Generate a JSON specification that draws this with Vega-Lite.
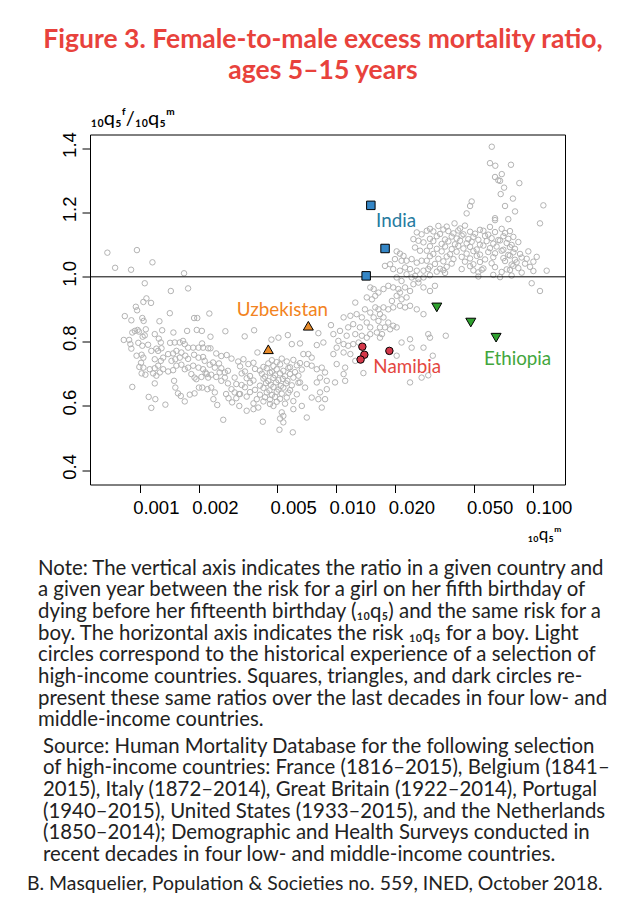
{
"$schema": "https://vega.github.io/schema/vega-lite/v6.json",
"padding": {"left": 27, "top": 26.5, "right": 0, "bottom": 0},
"background": "white",
"title": {"text": ["Figure 3. Female-to-male excess mortality ratio,", "ages 5–15 years"], "font": "Lato", "fontSize": 26.5, "fontWeight": "bold", "color": "#e8423c", "anchor": "middle", "lineHeight": 30.7, "offset": 23.5, "frame": "group", "dx": -4.5},
"spacing": 26,
"bounds": "flush",
"datasets": {
"hist": [
{"q":0.00106,"r":0.980},{"q":0.001439,"r":0.956},{"q":0.001762,"r":0.964},{"q":0.001043,"r":0.922},{"q":0.001081,"r":0.933},{"q":0.001141,"r":0.919},{"q":0.000955,"r":0.907},{"q":0.000969,"r":0.896},{"q":0.000839,"r":0.878},{"q":0.000906,"r":0.865},{"q":0.00103,"r":0.872},{"q":0.001046,"r":0.863},{"q":0.001259,"r":0.862},{"q":0.001422,"r":0.887},{"q":0.00189,"r":0.872},{"q":0.001962,"r":0.872},{"q":0.00226,"r":0.886},{"q":0.000916,"r":0.827},{"q":0.000944,"r":0.832},{"q":0.000975,"r":0.835},{"q":0.00099,"r":0.830},{"q":0.001073,"r":0.837},{"q":0.001034,"r":0.814},{"q":0.00106,"r":0.818},{"q":0.0013,"r":0.834},{"q":0.001483,"r":0.827},{"q":0.001741,"r":0.832},{"q":0.00195,"r":0.835},{"q":0.00207,"r":0.832},{"q":0.00229,"r":0.814},{"q":0.002727,"r":0.831},{"q":0.000829,"r":0.804},{"q":0.000883,"r":0.804},{"q":0.000896,"r":0.791},{"q":0.000906,"r":0.777},{"q":0.000983,"r":0.795},{"q":0.00103,"r":0.786},{"q":0.001102,"r":0.789},{"q":0.001192,"r":0.822},{"q":0.00125,"r":0.808},{"q":0.00128,"r":0.796},{"q":0.001215,"r":0.777},{"q":0.001145,"r":0.770},{"q":0.00124,"r":0.770},{"q":0.00129,"r":0.778},{"q":0.001427,"r":0.795},{"q":0.001507,"r":0.796},{"q":0.001598,"r":0.796},{"q":0.00166,"r":0.801},{"q":0.001694,"r":0.791},{"q":0.001762,"r":0.780},{"q":0.00187,"r":0.780},{"q":0.00199,"r":0.780},{"q":0.002075,"r":0.793},{"q":0.0021,"r":0.780},{"q":0.00223,"r":0.778},{"q":0.00229,"r":0.778},{"q":0.00245,"r":0.762},{"q":0.0026,"r":0.754},{"q":0.00277,"r":0.757},{"q":0.00293,"r":0.746},{"q":0.000963,"r":0.755},{"q":0.001022,"r":0.758},{"q":0.001043,"r":0.749},{"q":0.001015,"r":0.733},{"q":0.000995,"r":0.720},{"q":0.001043,"r":0.718},{"q":0.001068,"r":0.696},{"q":0.001022,"r":0.700},{"q":0.001124,"r":0.713},{"q":0.001192,"r":0.716},{"q":0.00124,"r":0.724},{"q":0.00128,"r":0.739},{"q":0.001192,"r":0.744},{"q":0.001315,"r":0.749},{"q":0.001394,"r":0.760},{"q":0.001478,"r":0.762},{"q":0.001536,"r":0.770},{"q":0.001628,"r":0.765},{"q":0.001706,"r":0.755},{"q":0.001762,"r":0.745},{"q":0.00189,"r":0.758},{"q":0.00199,"r":0.749},{"q":0.0021,"r":0.751},{"q":0.00214,"r":0.739},{"q":0.00227,"r":0.727},{"q":0.00236,"r":0.734},{"q":0.00241,"r":0.718},{"q":0.00253,"r":0.731},{"q":0.0026,"r":0.716},{"q":0.00271,"r":0.703},{"q":0.00281,"r":0.708},{"q":0.00304,"r":0.687},{"q":0.0031,"r":0.667},{"q":0.00317,"r":0.737},{"q":0.00271,"r":0.687},{"q":0.0026,"r":0.677},{"q":0.00281,"r":0.669},{"q":0.00293,"r":0.651},{"q":0.00304,"r":0.641},{"q":0.0032,"r":0.636},{"q":0.00117,"r":0.700},{"q":0.001215,"r":0.693},{"q":0.001265,"r":0.703},{"q":0.001315,"r":0.713},{"q":0.001394,"r":0.706},{"q":0.001478,"r":0.710},{"q":0.001536,"r":0.724},{"q":0.001628,"r":0.727},{"q":0.001694,"r":0.713},{"q":0.001762,"r":0.718},{"q":0.00183,"r":0.698},{"q":0.0019,"r":0.687},{"q":0.00194,"r":0.682},{"q":0.00206,"r":0.689},{"q":0.00219,"r":0.698},{"q":0.00223,"r":0.687},{"q":0.00231,"r":0.696},{"q":0.00245,"r":0.689},{"q":0.00255,"r":0.703},{"q":0.000916,"r":0.658},{"q":0.001192,"r":0.669},{"q":0.00111,"r":0.627},{"q":0.0012,"r":0.620},{"q":0.001145,"r":0.593},{"q":0.00135,"r":0.603},{"q":0.001495,"r":0.677},{"q":0.001517,"r":0.656},{"q":0.001565,"r":0.638},{"q":0.001617,"r":0.630},{"q":0.001694,"r":0.613},{"q":0.001797,"r":0.634},{"q":0.0019,"r":0.638},{"q":0.002,"r":0.656},{"q":0.00208,"r":0.656},{"q":0.00221,"r":0.651},{"q":0.00231,"r":0.656},{"q":0.00241,"r":0.641},{"q":0.00237,"r":0.620},{"q":0.00248,"r":0.602},{"q":0.00266,"r":0.556},{"q":0.00295,"r":0.610},{"q":0.00321,"r":0.599},{"q":0.00275,"r":0.636},{"q":0.00283,"r":0.623},{"q":0.0031,"r":0.623},{"q":0.00145,"r":0.739},{"q":0.001517,"r":0.744},{"q":0.001598,"r":0.749},{"q":0.00187,"r":0.724},{"q":0.00199,"r":0.718},{"q":0.0021,"r":0.713},{"q":0.00216,"r":0.703},{"q":0.000684,"r":1.075},{"q":0.000749,"r":1.028},{"q":0.000967,"r":1.083},{"q":0.000903,"r":1.022},{"q":0.00116,"r":1.045},{"q":0.00168,"r":1.011},
{"q":0.00337,"r":0.744},{"q":0.00379,"r":0.733},{"q":0.0047,"r":0.741},{"q":0.00498,"r":0.735},{"q":0.00528,"r":0.746},{"q":0.0056,"r":0.737},{"q":0.00605,"r":0.742},{"q":0.00654,"r":0.732},
{"q":0.00324,"r":0.722},{"q":0.00357,"r":0.729},{"q":0.00426,"r":0.720},{"q":0.00451,"r":0.731},{"q":0.00479,"r":0.723},{"q":0.00518,"r":0.728},{"q":0.00582,"r":0.719},{"q":0.0063,"r":0.725},
{"q":0.00343,"r":0.706},{"q":0.00386,"r":0.714},{"q":0.00409,"r":0.709},{"q":0.00443,"r":0.716},{"q":0.0047,"r":0.705},{"q":0.00498,"r":0.713},{"q":0.00538,"r":0.708},{"q":0.00571,"r":0.717},{"q":0.00617,"r":0.704},{"q":0.00668,"r":0.712},
{"q":0.0033,"r":0.700},{"q":0.00364,"r":0.692},{"q":0.00418,"r":0.699},{"q":0.00434,"r":0.690},{"q":0.0046,"r":0.702},{"q":0.00488,"r":0.694},{"q":0.00518,"r":0.700},{"q":0.00549,"r":0.691},{"q":0.00582,"r":0.698},{"q":0.00642,"r":0.693},
{"q":0.0035,"r":0.685},{"q":0.00379,"r":0.678},{"q":0.00426,"r":0.684},{"q":0.00451,"r":0.676},{"q":0.00479,"r":0.686},{"q":0.00508,"r":0.679},{"q":0.00535,"r":0.683},{"q":0.00564,"r":0.677},{"q":0.00605,"r":0.687},
{"q":0.0033,"r":0.664},{"q":0.00364,"r":0.671},{"q":0.00409,"r":0.662},{"q":0.00439,"r":0.670},{"q":0.00464,"r":0.665},{"q":0.00494,"r":0.672},{"q":0.00522,"r":0.661},{"q":0.00555,"r":0.669},{"q":0.00594,"r":0.663},{"q":0.00642,"r":0.671},
{"q":0.00343,"r":0.657},{"q":0.00386,"r":0.649},{"q":0.00426,"r":0.655},{"q":0.00457,"r":0.647},{"q":0.00479,"r":0.658},{"q":0.00508,"r":0.650},{"q":0.00538,"r":0.656},{"q":0.00582,"r":0.648},
{"q":0.00324,"r":0.636},{"q":0.00364,"r":0.642},{"q":0.00409,"r":0.634},{"q":0.00443,"r":0.641},{"q":0.0047,"r":0.633},{"q":0.00498,"r":0.643},{"q":0.00528,"r":0.637},{"q":0.00571,"r":0.640},{"q":0.0063,"r":0.635},
{"q":0.0035,"r":0.628},{"q":0.00394,"r":0.620},{"q":0.00434,"r":0.626},{"q":0.0046,"r":0.619},{"q":0.00488,"r":0.627},{"q":0.00518,"r":0.621},{"q":0.0056,"r":0.625},
{"q":0.00379,"r":0.607},{"q":0.00426,"r":0.613},{"q":0.0046,"r":0.605},{"q":0.00498,"r":0.612},{"q":0.00549,"r":0.606},{"q":0.00605,"r":0.614},
{"q":0.00342,"r":0.815},{"q":0.00382,"r":0.834},{"q":0.00468,"r":0.805},{"q":0.00508,"r":0.811},{"q":0.00567,"r":0.819},{"q":0.00811,"r":0.825},{"q":0.00397,"r":0.765},{"q":0.00594,"r":0.791},{"q":0.00654,"r":0.793},{"q":0.00796,"r":0.788},{"q":0.0086,"r":0.796},{"q":0.0068,"r":0.760},{"q":0.00721,"r":0.760},{"q":0.0075,"r":0.749},{"q":0.00708,"r":0.729},{"q":0.0075,"r":0.724},{"q":0.00796,"r":0.713},{"q":0.00844,"r":0.718},{"q":0.00877,"r":0.703},{"q":0.00827,"r":0.687},{"q":0.00895,"r":0.677},{"q":0.00796,"r":0.672},{"q":0.00694,"r":0.656},{"q":0.00654,"r":0.672},{"q":0.00827,"r":0.641},{"q":0.00895,"r":0.651},{"q":0.0075,"r":0.625},{"q":0.00811,"r":0.620},{"q":0.00877,"r":0.620},{"q":0.00844,"r":0.594},{"q":0.00668,"r":0.599},{"q":0.00708,"r":0.563},{"q":0.0035,"r":0.584},{"q":0.00379,"r":0.589},{"q":0.00401,"r":0.594},{"q":0.00423,"r":0.550},{"q":0.00479,"r":0.599},{"q":0.00528,"r":0.579},{"q":0.00538,"r":0.568},{"q":0.00518,"r":0.560},{"q":0.00538,"r":0.548},{"q":0.00514,"r":0.525},{"q":0.00601,"r":0.517},{"q":0.00605,"r":0.589},{"q":0.0094,"r":0.850},
{"q":0.0257,"r":1.138},{"q":0.0272,"r":1.132},{"q":0.0289,"r":1.143},{"q":0.0247,"r":1.117},{"q":0.0262,"r":1.112},{"q":0.0278,"r":1.107},{"q":0.02518,"r":1.091},{"q":0.0267,"r":1.081},{"q":0.0289,"r":1.081},{"q":0.0203,"r":1.079},{"q":0.0211,"r":1.072},{"q":0.022,"r":1.065},{"q":0.0199,"r":1.055},{"q":0.0215,"r":1.050},{"q":0.0228,"r":1.050},{"q":0.0242,"r":1.055},{"q":0.0257,"r":1.044},{"q":0.0272,"r":1.050},{"q":0.0289,"r":1.050},{"q":0.0177,"r":1.034},{"q":0.0188,"r":1.039},{"q":0.0195,"r":1.024},{"q":0.0211,"r":1.019},{"q":0.0224,"r":1.029},{"q":0.02375,"r":1.024},{"q":0.0257,"r":1.019},{"q":0.0278,"r":1.019},{"q":0.0294,"r":1.024},{"q":0.0252,"r":1.003},{"q":0.0262,"r":0.993},{"q":0.0278,"r":0.998},{"q":0.0228,"r":1.008},{"q":0.0242,"r":0.998},{"q":0.0203,"r":0.998},{"q":0.0215,"r":0.987},{"q":0.0184,"r":0.972},{"q":0.0195,"r":0.967},{"q":0.0207,"r":0.962},{"q":0.0211,"r":0.951},{"q":0.0224,"r":0.967},{"q":0.02375,"r":0.956},{"q":0.0247,"r":0.977},{"q":0.0262,"r":0.982},{"q":0.0278,"r":0.967},{"q":0.0203,"r":0.941},{"q":0.0215,"r":0.930},{"q":0.0228,"r":0.936},{"q":0.0192,"r":0.925},{"q":0.0174,"r":0.962},{"q":0.0164,"r":0.951},{"q":0.0158,"r":0.941},{"q":0.0149,"r":0.967},{"q":0.0155,"r":0.962},{"q":0.0143,"r":0.936},{"q":0.0152,"r":0.930},{"q":0.0125,"r":0.920},{"q":0.014,"r":0.899},{"q":0.0149,"r":0.889},{"q":0.0158,"r":0.905},{"q":0.0164,"r":0.899},{"q":0.0167,"r":0.884},{"q":0.0174,"r":0.905},{"q":0.0184,"r":0.899},{"q":0.0195,"r":0.905},{"q":0.0211,"r":0.910},{"q":0.0224,"r":0.905},{"q":0.02375,"r":0.910},{"q":0.0257,"r":0.899},{"q":0.0278,"r":0.884},{"q":0.0155,"r":0.874},{"q":0.0164,"r":0.863},{"q":0.0174,"r":0.874},{"q":0.0184,"r":0.858},{"q":0.0195,"r":0.848},{"q":0.0203,"r":0.843},{"q":0.0167,"r":0.843},{"q":0.0177,"r":0.843},{"q":0.0188,"r":0.837},{"q":0.0161,"r":0.827},{"q":0.0171,"r":0.822},{"q":0.0149,"r":0.843},{"q":0.0143,"r":0.858},{"q":0.0135,"r":0.874},{"q":0.0127,"r":0.884},{"q":0.0118,"r":0.879},{"q":0.0109,"r":0.874},{"q":0.0122,"r":0.853},{"q":0.0132,"r":0.843},{"q":0.0115,"r":0.843},{"q":0.01045,"r":0.832},{"q":0.00967,"r":0.822},{"q":0.01025,"r":0.801},{"q":0.0113,"r":0.817},{"q":0.0125,"r":0.822},{"q":0.0135,"r":0.817},{"q":0.0143,"r":0.811},{"q":0.0149,"r":0.822},{"q":0.0109,"r":0.791},{"q":0.01005,"r":0.780},{"q":0.0115,"r":0.786},{"q":0.0122,"r":0.791},{"q":0.013,"r":0.796},{"q":0.0167,"r":0.811},{"q":0.0215,"r":0.796},{"q":0.02375,"r":0.806},{"q":0.0294,"r":0.822},{"q":0.0278,"r":0.780},{"q":0.0242,"r":0.780},{"q":0.0203,"r":0.755},{"q":0.0118,"r":0.760},{"q":0.0109,"r":0.765},{"q":0.00967,"r":0.760},{"q":0.01005,"r":0.729},{"q":0.0111,"r":0.718},{"q":0.0109,"r":0.698},{"q":0.0125,"r":0.739},{"q":0.01375,"r":0.701},{"q":0.00986,"r":0.672},{"q":0.0111,"r":0.677},{"q":0.02375,"r":0.672},{"q":0.0272,"r":0.687},{"q":0.0294,"r":0.694},
{"q":0.0619,"r":1.404},{"q":0.0606,"r":1.353},{"q":0.0645,"r":1.345},{"q":0.0775,"r":1.348},{"q":0.0696,"r":1.319},{"q":0.0643,"r":1.310},{"q":0.0668,"r":1.300},{"q":0.0682,"r":1.298},{"q":0.0855,"r":1.291},{"q":0.0715,"r":1.277},{"q":0.0687,"r":1.257},{"q":0.0793,"r":1.243},{"q":0.0489,"r":1.234},{"q":0.048,"r":1.220},{"q":0.0723,"r":1.220},{"q":0.1133,"r":1.222},{"q":0.0813,"r":1.203},{"q":0.0461,"r":1.197},{"q":0.0643,"r":1.182},{"q":0.0643,"r":1.176},{"q":0.0751,"r":1.179},{"q":0.1089,"r":1.166},{"q":0.040,"r":1.166},
{"q":0.030,"r":1.149},{"q":0.0331,"r":1.158},{"q":0.0351,"r":1.147},{"q":0.0365,"r":1.156},{"q":0.0427,"r":1.150},{"q":0.0452,"r":1.159},{"q":0.0539,"r":1.146},{"q":0.0606,"r":1.155},{"q":0.0695,"r":1.149},
{"q":0.0312,"r":1.141},{"q":0.03375,"r":1.133},{"q":0.0372,"r":1.142},{"q":0.0395,"r":1.135},{"q":0.0418,"r":1.144},{"q":0.0444,"r":1.132},{"q":0.048,"r":1.140},{"q":0.0509,"r":1.134},{"q":0.0561,"r":1.143},{"q":0.0594,"r":1.131},{"q":0.0643,"r":1.139},{"q":0.0723,"r":1.136},{"q":0.0766,"r":1.142},
{"q":0.030,"r":1.118},{"q":0.0325,"r":1.126},{"q":0.0358,"r":1.116},{"q":0.0387,"r":1.125},{"q":0.041,"r":1.119},{"q":0.0435,"r":1.128},{"q":0.047,"r":1.117},{"q":0.0499,"r":1.124},{"q":0.0529,"r":1.115},{"q":0.0572,"r":1.127},{"q":0.0618,"r":1.120},{"q":0.0668,"r":1.114},{"q":0.0709,"r":1.126},{"q":0.0751,"r":1.118},{"q":0.0797,"r":1.124},
{"q":0.0312,"r":1.111},{"q":0.0344,"r":1.102},{"q":0.0372,"r":1.110},{"q":0.0402,"r":1.101},{"q":0.0427,"r":1.112},{"q":0.0461,"r":1.104},{"q":0.0489,"r":1.109},{"q":0.0539,"r":1.100},{"q":0.0583,"r":1.111},{"q":0.063,"r":1.103},{"q":0.0682,"r":1.113},{"q":0.0737,"r":1.105},{"q":0.0781,"r":1.099},{"q":0.0845,"r":1.108},
{"q":0.030,"r":1.095},{"q":0.0325,"r":1.087},{"q":0.0358,"r":1.094},{"q":0.0387,"r":1.086},{"q":0.0418,"r":1.096},{"q":0.0444,"r":1.088},{"q":0.048,"r":1.093},{"q":0.0519,"r":1.085},{"q":0.0561,"r":1.097},{"q":0.0606,"r":1.089},{"q":0.0655,"r":1.094},{"q":0.0709,"r":1.084},{"q":0.0766,"r":1.092},{"q":0.0812,"r":1.087},
{"q":0.0312,"r":1.071},{"q":0.0344,"r":1.079},{"q":0.03795,"r":1.070},{"q":0.041,"r":1.078},{"q":0.0461,"r":1.072},{"q":0.0499,"r":1.080},{"q":0.0539,"r":1.069},{"q":0.0594,"r":1.077},{"q":0.0643,"r":1.073},{"q":0.0695,"r":1.081},{"q":0.0751,"r":1.068},{"q":0.0797,"r":1.076},{"q":0.0862,"r":1.071},{"q":0.095,"r":1.079},
{"q":0.030,"r":1.064},{"q":0.0331,"r":1.056},{"q":0.0365,"r":1.063},{"q":0.0395,"r":1.055},{"q":0.0435,"r":1.062},{"q":0.048,"r":1.057},{"q":0.0519,"r":1.065},{"q":0.0572,"r":1.054},{"q":0.063,"r":1.061},{"q":0.0709,"r":1.058},{"q":0.0766,"r":1.066},{"q":0.0812,"r":1.053},{"q":0.0879,"r":1.060},{"q":0.0932,"r":1.056},{"q":0.1048,"r":1.062},
{"q":0.0318,"r":1.040},{"q":0.0351,"r":1.048},{"q":0.0387,"r":1.041},{"q":0.0452,"r":1.047},{"q":0.0499,"r":1.039},{"q":0.0539,"r":1.046},{"q":0.0618,"r":1.042},{"q":0.0723,"r":1.049},{"q":0.0781,"r":1.038},{"q":0.0828,"r":1.045},{"q":0.0914,"r":1.041},{"q":0.1008,"r":1.047},
{"q":0.030,"r":1.032},{"q":0.03375,"r":1.025},{"q":0.0365,"r":1.031},{"q":0.0435,"r":1.024},{"q":0.048,"r":1.033},{"q":0.0561,"r":1.026},{"q":0.0643,"r":1.030},{"q":0.0737,"r":1.023},{"q":0.0797,"r":1.034},{"q":0.0845,"r":1.027},{"q":0.0969,"r":1.031},
{"q":0.0325,"r":1.016},{"q":0.0351,"r":1.021},{"q":0.0358,"r":1.012},{"q":0.0499,"r":1.020},{"q":0.0529,"r":1.014},{"q":0.055,"r":1.022},{"q":0.0695,"r":1.015},{"q":0.0766,"r":1.021},{"q":0.0879,"r":1.013},{"q":0.1008,"r":1.018},{"q":0.1178,"r":1.019},
{"q":0.030,"r":1.005},{"q":0.0529,"r":1.001},{"q":0.063,"r":1.006},{"q":0.0682,"r":0.999},{"q":0.0781,"r":1.004},
{"q":0.0318,"r":0.972},{"q":0.030,"r":0.956},{"q":0.0988,"r":0.980},{"q":0.1089,"r":0.956},{"q":0.031,"r":0.755},{"q":0.0361,"r":0.817},{"q":0.030,"r":0.811}
],
"countries": [
{"country":"India","q":0.0150,"r":1.222},{"country":"India","q":0.01772,"r":1.088},{"country":"India","q":0.0142,"r":1.003},
{"country":"Uzbekistan","q":0.00721,"r":0.848},{"country":"Uzbekistan","q":0.00451,"r":0.775},
{"country":"Namibia","q":0.01358,"r":0.783},{"country":"Namibia","q":0.0139,"r":0.758},{"country":"Namibia","q":0.0133,"r":0.743},{"country":"Namibia","q":0.01864,"r":0.770},
{"country":"Ethiopia","q":0.0325,"r":0.905},{"country":"Ethiopia","q":0.0484,"r":0.858},{"country":"Ethiopia","q":0.0651,"r":0.811}
],
"labels": [
{"country":"India","q":0.01595,"r":1.156},{"country":"Uzbekistan","q":0.00312,"r":0.877},{"country":"Namibia","q":0.01545,"r":0.701},{"country":"Ethiopia","q":0.0565,"r":0.727}
],
"notes": [
{"i":0,"t":"Note: The vertical axis indicates the ratio in a given country and"},
{"i":1,"t":"a given year between the risk for a girl on her fifth birthday of"},
{"i":2,"t":"dying before her fifteenth birthday (₁₀q₅) and the same risk for a"},
{"i":3,"t":"boy. The horizontal axis indicates the risk ₁₀q₅ for a boy. Light"},
{"i":4,"t":"circles correspond to the historical experience of a selection of"},
{"i":5,"t":"high-income countries. Squares, triangles, and dark circles re-"},
{"i":6,"t":"present these same ratios over the last decades in four low- and"},
{"i":7,"t":"middle-income countries."}
],
"source": [
{"i":0,"t":"Source: Human Mortality Database for the following selection"},
{"i":1,"t":"of high-income countries: France (1816–2015), Belgium (1841–"},
{"i":2,"t":"2015), Italy (1872–2014), Great Britain (1922–2014), Portugal"},
{"i":3,"t":"(1940–2015), United States (1933–2015), and the Netherlands"},
{"i":4,"t":"(1850–2014); Demographic and Health Surveys conducted in"},
{"i":5,"t":"recent decades in four low- and middle-income countries."}
],
"credit": [
{"t":"B. Masquelier, Population & Societies no. 559, INED, October 2018."}
]
},
"vconcat": [
{
"width": 475, "height": 350,
"view": {"stroke": "#000", "strokeWidth": 1},
"layer": [
{"data": {"name": "hist"},
 "mark": {"type": "point", "shape": "circle", "filled": false, "stroke": "#b3b3b3", "strokeWidth": 1, "size": 30, "opacity": 1},
 "encoding": {
  "x": {"field": "q", "type": "quantitative", "scale": {"type": "log", "domain": [0.000558, 0.146], "nice": false},
   "axis": {"values": [0.001,0.002,0.005,0.01,0.02,0.05,0.1], "format": ".3f", "title": "₁₀q₅ᵐ", "grid": false, "domain": false, "tickSize": 8, "tickColor": "#000", "tickWidth": 1, "labelFont": "Liberation Sans", "labelFontSize": 18.5, "labelColor": "#000", "labelOffset": 16, "labelPadding": 6, "labelBaseline": "top", "labelFlush": false, "labelOverlap": false, "titleFont": "Lato", "titleFontSize": 17, "titleFontWeight": "normal", "titleColor": "#000", "titleX": 471, "titleY": 55, "titleAlign": "right", "titleBaseline": "alphabetic"}},
  "y": {"field": "r", "type": "quantitative", "scale": {"domain": [0.355, 1.442], "nice": false, "zero": false},
   "axis": {"values": [0.4,0.6,0.8,1.0,1.2,1.4], "format": ".1f", "title": "₁₀q₅ᶠ/₁₀q₅ᵐ", "grid": false, "domain": false, "tickSize": 8, "tickColor": "#000", "tickWidth": 1, "labelFont": "Liberation Sans", "labelFontSize": 18.5, "labelColor": "#000", "labelAngle": 270, "labelAlign": "center", "labelBaseline": "alphabetic", "labelPadding": 7, "labelOffset": -3.5, "labelFlush": false, "labelOverlap": false, "titleFont": "Lato", "titleFontSize": 20, "titleFontWeight": "normal", "titleColor": "#000", "titleAngle": 0, "titleX": 0, "titleY": -10, "titleAlign": "left", "titleBaseline": "alphabetic"}}
 }},
{"data": {"values": [{}]}, "mark": {"type": "rule", "color": "#000", "strokeWidth": 1}, "encoding": {"y": {"datum": 1}}},
{"data": {"name": "countries"}, "transform": [{"filter": "datum.country === 'India'"}],
 "mark": {"type": "point", "shape": "square", "filled": true, "fill": "#3486c6", "stroke": "#000", "strokeWidth": 1, "size": 72, "opacity": 1},
 "encoding": {"x": {"field": "q", "type": "quantitative"}, "y": {"field": "r", "type": "quantitative"}}},
{"data": {"name": "countries"}, "transform": [{"filter": "datum.country === 'Uzbekistan'"}],
 "mark": {"type": "point", "shape": "triangle-up", "filled": true, "fill": "#e88b2a", "stroke": "#000", "strokeWidth": 1, "size": 100, "opacity": 1},
 "encoding": {"x": {"field": "q", "type": "quantitative"}, "y": {"field": "r", "type": "quantitative"}}},
{"data": {"name": "countries"}, "transform": [{"filter": "datum.country === 'Namibia'"}],
 "mark": {"type": "point", "shape": "circle", "filled": true, "fill": "#d5384a", "stroke": "#000", "strokeWidth": 1, "size": 56, "opacity": 1},
 "encoding": {"x": {"field": "q", "type": "quantitative"}, "y": {"field": "r", "type": "quantitative"}}},
{"data": {"name": "countries"}, "transform": [{"filter": "datum.country === 'Ethiopia'"}],
 "mark": {"type": "point", "shape": "triangle-down", "filled": true, "fill": "#2fa12f", "stroke": "#000", "strokeWidth": 1, "size": 100, "opacity": 1},
 "encoding": {"x": {"field": "q", "type": "quantitative"}, "y": {"field": "r", "type": "quantitative"}}},
{"data": {"name": "labels"},
 "mark": {"type": "text", "align": "left", "baseline": "alphabetic", "font": "Lato", "fontSize": 18.8},
 "encoding": {"x": {"field": "q", "type": "quantitative"}, "y": {"field": "r", "type": "quantitative"}, "text": {"field": "country"},
  "color": {"field": "country", "type": "nominal", "scale": {"domain": ["India","Uzbekistan","Namibia","Ethiopia"], "range": ["#267b9f","#f28321","#e4473f","#42a63c"]}, "legend": null}}}
]
},
{
"width": 475, "height": 216,
"view": {"stroke": null},
"data": {"name": "notes"},
"mark": {"type": "text", "align": "left", "baseline": "alphabetic", "font": "Lato", "fontSize": 20.4, "color": "#222", "dx": -52},
"encoding": {"x": {"datum": 0, "type": "quantitative", "scale": {"domain": [0, 1]}, "axis": null}, "y": {"field": "i", "type": "ordinal", "scale": {"type": "point", "range": [64, 215.9], "padding": 0}, "axis": null}, "text": {"field": "t"}}
},
{
"width": 475, "height": 108.5,
"view": {"stroke": null},
"data": {"name": "source"},
"mark": {"type": "text", "align": "left", "baseline": "alphabetic", "font": "Lato", "fontSize": 20.4, "color": "#222", "dx": -47},
"encoding": {"x": {"datum": 0, "type": "quantitative", "scale": {"domain": [0, 1]}, "axis": null}, "y": {"field": "i", "type": "ordinal", "scale": {"type": "point", "range": [0, 108.5], "padding": 0}, "axis": null}, "text": {"field": "t"}}
},
{
"width": 475, "height": 4,
"view": {"stroke": null},
"data": {"name": "credit"},
"mark": {"type": "text", "align": "left", "baseline": "alphabetic", "font": "Lato", "fontSize": 19.4, "color": "#222", "dx": -63},
"encoding": {"x": {"datum": 0, "type": "quantitative", "scale": {"domain": [0, 1]}, "axis": null}, "text": {"field": "t"}}
}
],
"config": {"font": "Lato"}
}
